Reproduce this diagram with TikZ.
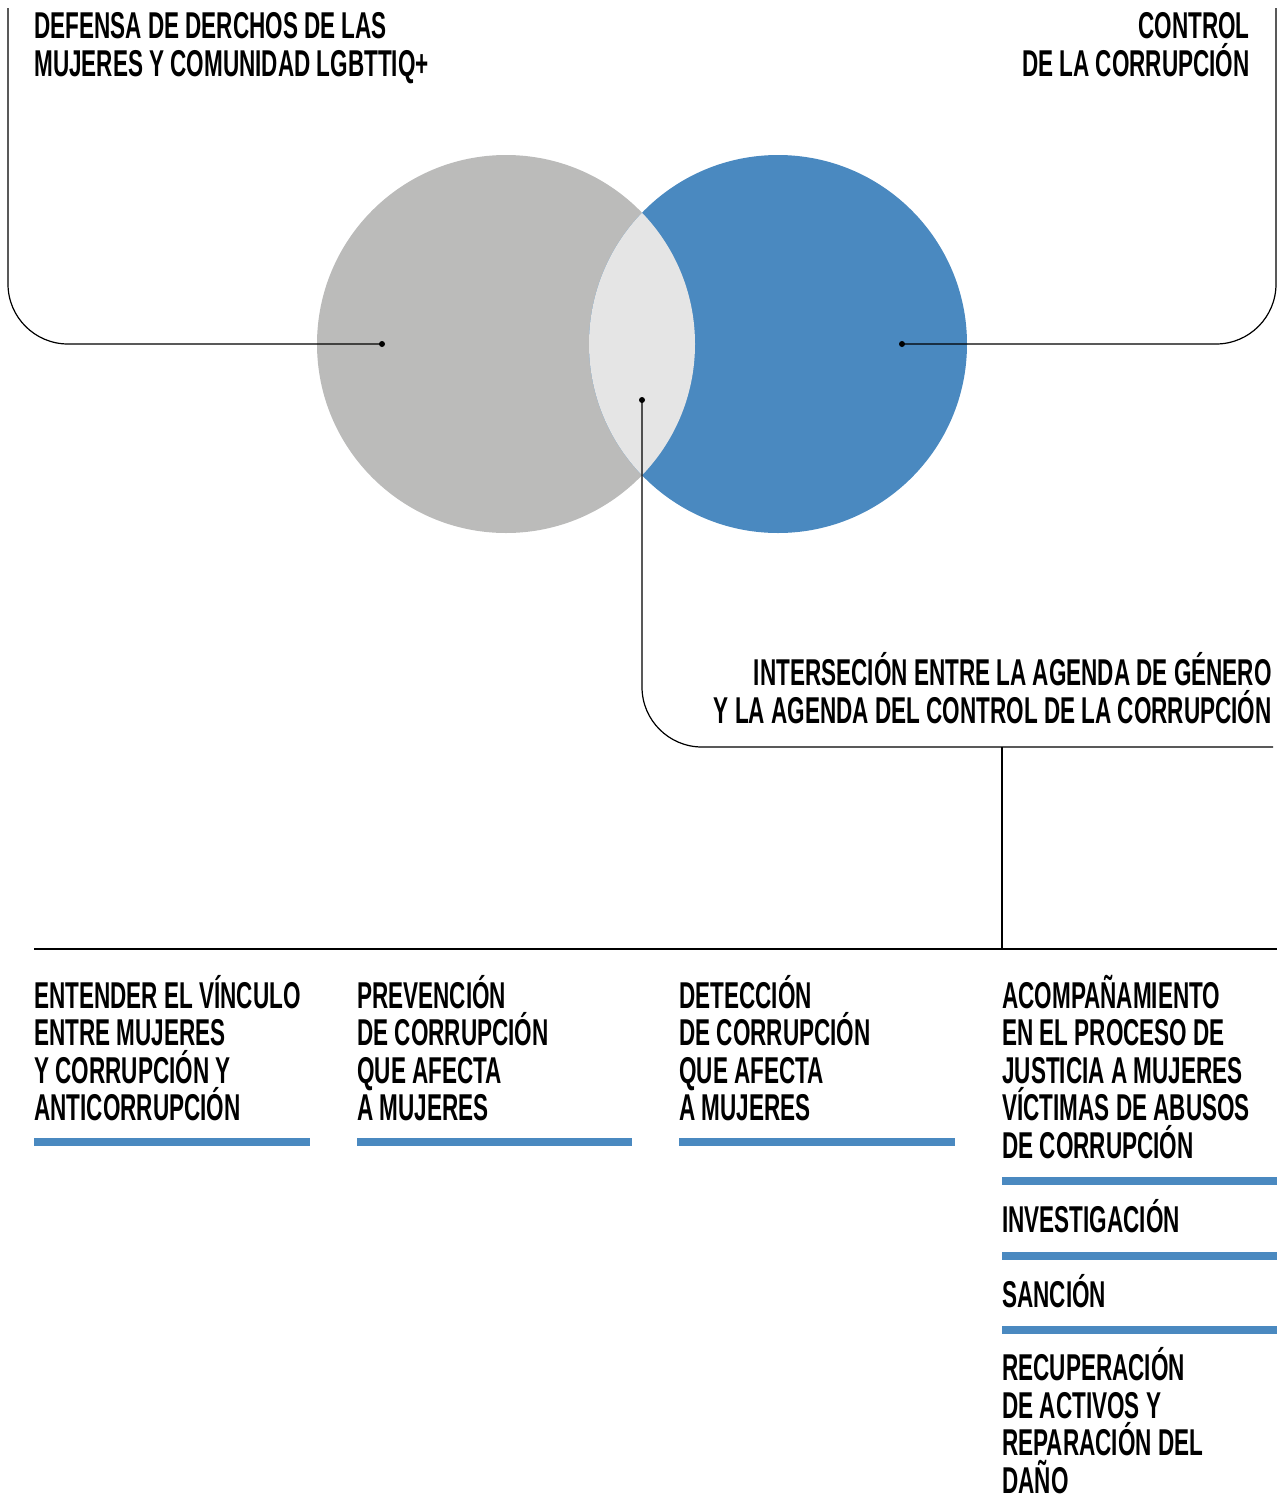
\documentclass[tikz,border=0pt]{standalone}
\usepackage{fontspec}
\setmainfont{Liberation Sans}[FakeStretch=0.603]
\definecolor{greyc}{HTML}{BBBBBA}
\definecolor{bluec}{HTML}{4A89C0}
\definecolor{lensc}{HTML}{E5E5E5}
\begin{document}
\begin{tikzpicture}[x=0.75pt,y=-0.75pt,
  lbl/.style={inner sep=0pt, font=\bfseries\fontsize{28}{28.1}\selectfont},
  conn/.style={line width=0.9pt, rounded corners=45pt},
  plain/.style={line width=0.9pt},
  dotn/.style={circle, fill=black, inner sep=0pt, minimum size=4.5pt},
  bar/.style={line width=6pt, draw=bluec}]
\useasboundingbox (0,0) rectangle (1277,1510);
% circles
\fill[greyc] (506,344) circle[radius=189];
\fill[bluec] (778,344) circle[radius=189];
\begin{scope}
  \clip (506,344) circle[radius=189];
  \fill[lensc] (778,344) circle[radius=189];
\end{scope}
% dots
\node[dotn] (dl) at (382,344) {};
\node[dotn] (dr) at (902,344) {};
\node[dotn] (dm) at (642,400) {};
% labels (base anchor = baseline of last line)
\node[lbl, anchor=base west, align=left] (tl) at (34,76) {DEFENSA DE DERCHOS DE LAS\\MUJERES Y COMUNIDAD LGBTTIQ+};
\node[lbl, anchor=base east, align=right] (tr) at (1250,76) {CONTROL\\DE LA CORRUPCIÓN};
\node[lbl, anchor=base east, align=right] (ti) at (1272,723) {INTERSECIÓN ENTRE LA AGENDA DE GÉNERO\\Y LA AGENDA DEL CONTROL DE LA CORRUPCIÓN};
% brackets
\coordinate (ltop) at (8,8);
\coordinate (rtop) at (1276,8);
\coordinate (mend) at (1273,747);
\coordinate (bsplit) at (1002,747);
\coordinate (bjoin) at (1002,949);
\coordinate (hl) at (34,949);
\coordinate (hr) at (1277,949);
\draw[conn] (ltop) |- (dl.center);
\draw[conn] (rtop) |- (dr.center);
\draw[conn] (dm.center) |- (mend);
\draw[plain] (bsplit) -- (bjoin);
\draw[plain] (hl) -- (hr);
% columns
\node[lbl, anchor=base west, align=left] (c1) at (34,1120.5) {ENTENDER EL VÍNCULO\\ENTRE MUJERES\\Y CORRUPCIÓN Y\\ANTICORRUPCIÓN};
\node[lbl, anchor=base west, align=left] (c2) at (357,1120.5) {PREVENCIÓN\\DE CORRUPCIÓN\\QUE AFECTA\\A MUJERES};
\node[lbl, anchor=base west, align=left] (c3) at (679,1120.5) {DETECCIÓN\\DE CORRUPCIÓN\\QUE AFECTA\\A MUJERES};
\node[lbl, anchor=base west, align=left] (c4) at (1002,1158) {ACOMPAÑAMIENTO\\EN EL PROCESO DE\\JUSTICIA A MUJERES\\VÍCTIMAS DE ABUSOS\\DE CORRUPCIÓN};
\node[lbl, anchor=base west, align=left] (c5) at (1002,1232) {INVESTIGACIÓN};
\node[lbl, anchor=base west, align=left] (c6) at (1002,1307) {SANCIÓN};
\node[lbl, anchor=base west, align=left] (c7) at (1002,1493) {RECUPERACIÓN\\DE ACTIVOS Y\\REPARACIÓN DEL\\DAÑO};
% bars
\draw[bar] (34,1142) -- (310,1142);
\draw[bar] (357,1142) -- (632,1142);
\draw[bar] (679,1142) -- (955,1142);
\draw[bar] (1002,1180.5) -- (1277,1180.5);
\draw[bar] (1002,1255.5) -- (1277,1255.5);
\draw[bar] (1002,1330) -- (1277,1330);
\end{tikzpicture}
\end{document}
